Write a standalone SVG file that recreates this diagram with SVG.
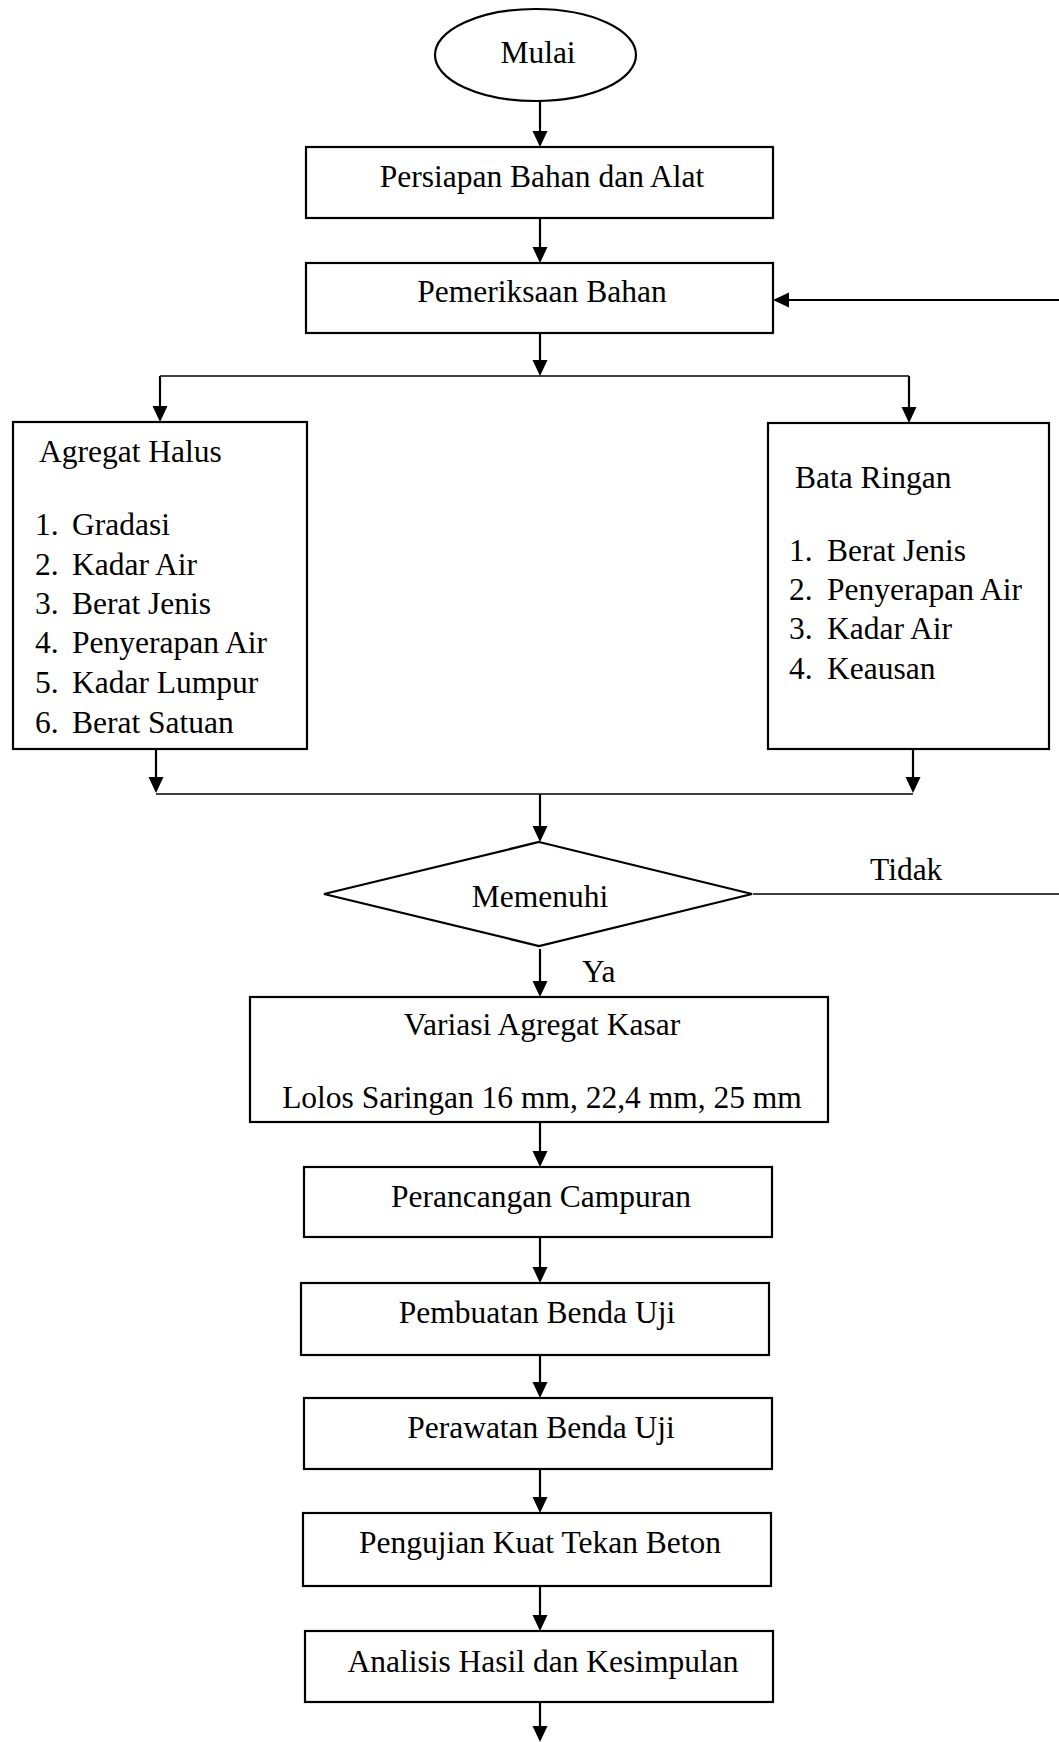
<svg xmlns="http://www.w3.org/2000/svg" xmlns:xlink="http://www.w3.org/1999/xlink" width="1059" height="1742" viewBox="0 0 1059 1742">
<style>
text{font-family:"Liberation Serif","Times New Roman",serif;font-size:31.5px;fill:#000}
.c{text-anchor:middle}
.box{fill:#fff;stroke:#000;stroke-width:2.2}
.ln{stroke:#000;stroke-width:2.2;fill:none}
.thin{stroke:#000;stroke-width:1.3;fill:none}
.hd{fill:#000;stroke:none}
</style>
<defs>
<path id="hd" class="hd" d="M-7.5,-16 L7.5,-16 L0,0 z"/>
</defs>
<rect width="1059" height="1742" fill="#fff"/>
<g id="connectors">
<line class="ln" x1="540" y1="101" x2="540" y2="140"/><use href="#hd" xlink:href="#hd" x="540" y="147"/>
<line class="ln" x1="540" y1="218" x2="540" y2="256"/><use href="#hd" xlink:href="#hd" x="540" y="263"/>
<line class="ln" x1="540" y1="333" x2="540" y2="369"/><use href="#hd" xlink:href="#hd" x="540" y="376"/>
<line class="thin" x1="160" y1="376" x2="909" y2="376"/>
<line class="ln" x1="160" y1="376" x2="160" y2="415"/><use href="#hd" xlink:href="#hd" x="160" y="422"/>
<line class="ln" x1="909" y1="376" x2="909" y2="416"/><use href="#hd" xlink:href="#hd" x="909" y="423"/>
<line class="ln" x1="156" y1="749" x2="156" y2="786"/><use href="#hd" xlink:href="#hd" x="156" y="793"/>
<line class="ln" x1="913" y1="749" x2="913" y2="786"/><use href="#hd" xlink:href="#hd" x="913" y="793"/>
<line class="thin" x1="156" y1="794" x2="913" y2="794"/>
<line class="ln" x1="540" y1="794" x2="540" y2="835"/><use href="#hd" xlink:href="#hd" x="540" y="842"/>
<line class="ln" x1="540" y1="949" x2="540" y2="990"/><use href="#hd" xlink:href="#hd" x="540" y="997"/>
<line class="thin" x1="753" y1="894" x2="1059" y2="894"/>
<line class="ln" x1="1059" y1="300" x2="780" y2="300"/><use href="#hd" xlink:href="#hd" transform="translate(773,300) rotate(90)"/>
<line class="ln" x1="540" y1="1122" x2="540" y2="1160"/><use href="#hd" xlink:href="#hd" x="540" y="1167"/>
<line class="ln" x1="540" y1="1237" x2="540" y2="1276"/><use href="#hd" xlink:href="#hd" x="540" y="1283"/>
<line class="ln" x1="540" y1="1355" x2="540" y2="1391"/><use href="#hd" xlink:href="#hd" x="540" y="1398"/>
<line class="ln" x1="540" y1="1469" x2="540" y2="1506"/><use href="#hd" xlink:href="#hd" x="540" y="1513"/>
<line class="ln" x1="540" y1="1586" x2="540" y2="1624"/><use href="#hd" xlink:href="#hd" x="540" y="1631"/>
<line class="ln" x1="540" y1="1702" x2="540" y2="1735"/><use href="#hd" xlink:href="#hd" x="540" y="1742"/>
<text x="870" y="880">Tidak</text>
<text x="582" y="982">Ya</text>
</g>
<g id="mulai">
<ellipse class="box" cx="535.5" cy="55" rx="100.5" ry="46"/>
<text class="c" x="538" y="63">Mulai</text>
</g>
<g id="persiapan">
<rect class="box" x="306" y="147" width="467" height="71"/>
<text class="c" x="542" y="187">Persiapan Bahan dan Alat</text>
</g>
<g id="pemeriksaan">
<rect class="box" x="306" y="263" width="467" height="70"/>
<text class="c" x="542" y="302">Pemeriksaan Bahan</text>
</g>
<g id="agregat-halus">
<rect class="box" x="13" y="422" width="294" height="327"/>
<text x="39" y="462">Agregat Halus</text>
<text x="35" y="535">1.</text><text x="72" y="535">Gradasi</text>
<text x="35" y="575">2.</text><text x="72" y="575">Kadar Air</text>
<text x="35" y="614">3.</text><text x="72" y="614">Berat Jenis</text>
<text x="35" y="653">4.</text><text x="72" y="653">Penyerapan Air</text>
<text x="35" y="693">5.</text><text x="72" y="693">Kadar Lumpur</text>
<text x="35" y="733">6.</text><text x="72" y="733">Berat Satuan</text>
</g>
<g id="bata-ringan">
<rect class="box" x="768" y="423" width="281" height="326"/>
<text x="795" y="488">Bata Ringan</text>
<text x="789" y="561">1.</text><text x="827" y="561">Berat Jenis</text>
<text x="789" y="600">2.</text><text x="827" y="600">Penyerapan Air</text>
<text x="789" y="639">3.</text><text x="827" y="639">Kadar Air</text>
<text x="789" y="679">4.</text><text x="827" y="679">Keausan</text>
</g>
<g id="memenuhi">
<polygon class="box" points="539,842 752,894 539,946 324,894"/>
<text class="c" x="540" y="907">Memenuhi</text>
</g>
<g id="variasi">
<rect class="box" x="250" y="997" width="578" height="125"/>
<text class="c" x="542" y="1035">Variasi Agregat Kasar</text>
<text class="c" x="542" y="1108">Lolos Saringan 16 mm, 22,4 mm, 25 mm</text>
</g>
<g id="perancangan">
<rect class="box" x="304" y="1167" width="468" height="70"/>
<text class="c" x="541" y="1207">Perancangan Campuran</text>
</g>
<g id="pembuatan">
<rect class="box" x="301" y="1283" width="468" height="72"/>
<text class="c" x="537" y="1323">Pembuatan Benda Uji</text>
</g>
<g id="perawatan">
<rect class="box" x="304" y="1398" width="468" height="71"/>
<text class="c" x="541" y="1438">Perawatan Benda Uji</text>
</g>
<g id="pengujian">
<rect class="box" x="303" y="1513" width="468" height="73"/>
<text class="c" x="540" y="1553">Pengujian Kuat Tekan Beton</text>
</g>
<g id="analisis">
<rect class="box" x="305" y="1631" width="468" height="71"/>
<text class="c" x="543" y="1672">Analisis Hasil dan Kesimpulan</text>
</g>
</svg>
